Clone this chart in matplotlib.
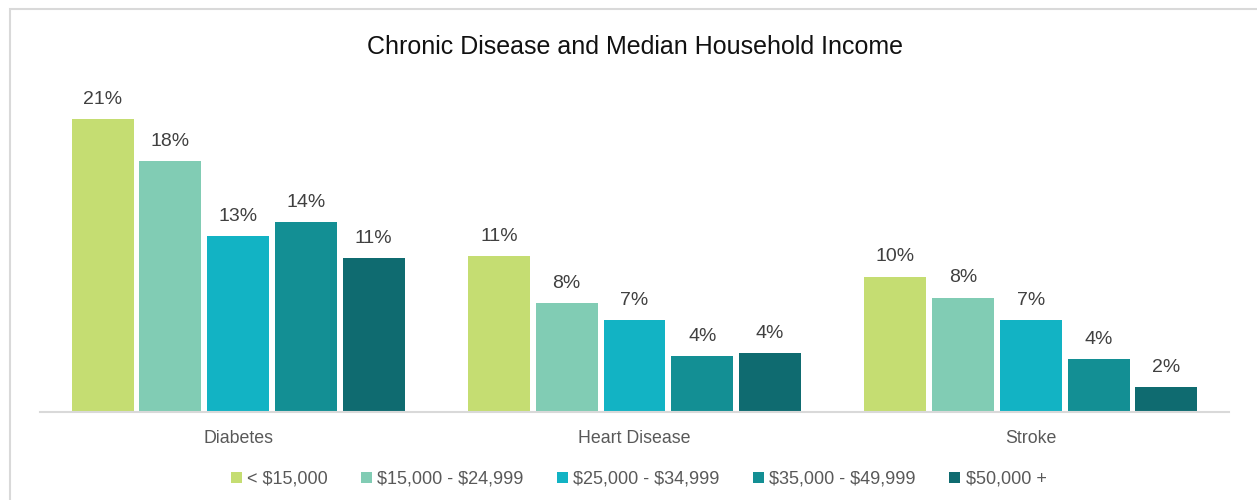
import numpy as np
import matplotlib.pyplot as plt
from matplotlib.patches import Rectangle

plt.rcParams['font.family'] = ['Liberation Sans', 'DejaVu Sans']
plt.rcParams['text.parse_math'] = False

# Chronic disease prevalence by median household income
diseases = ['Diabetes', 'Heart Disease', 'Stroke']
income_groups = ['< $15,000', '$15,000 - $24,999', '$25,000 - $34,999',
                 '$35,000 - $49,999', '$50,000 +']
diabetes = [21.0, 18.0, 12.6, 13.6, 11.0]
heart = [11.2, 7.8, 6.6, 4.0, 4.2]
stroke = [9.7, 8.2, 6.6, 3.8, 1.8]
colors = ['#C5DD72', '#81CCB4', '#12B3C4', '#138F94', '#0F6B70']

values = np.array([diabetes, heart, stroke])

fig = plt.figure(figsize=(12.57, 5.0), dpi=100)
ax = fig.add_axes([40 / 1257, 88 / 500, 1189 / 1257, 349 / 500])

x = np.arange(len(diseases))
slot = 0.171
width = 0.156
for i, (name, col) in enumerate(zip(income_groups, colors)):
    pos = x + (i - 2) * slot
    bars = ax.bar(pos, values[:, i], width, color=col, label=name)
    for b, v in zip(bars, values[:, i]):
        ax.annotate(f'{v:.0f}%', (b.get_x() + b.get_width() / 2, v),
                    xytext=(0, 8), textcoords='offset points',
                    ha='center', va='bottom', fontsize=14, color='#404040')

ax.set_xlim(-0.5, 2.5)
ax.set_ylim(0, 25)
ax.set_xticks(x)
ax.set_xticklabels(diseases, fontsize=12.8, color='#595959')
ax.tick_params(axis='x', length=0, pad=13)
ax.set_yticks([])
for s in ['top', 'right', 'left']:
    ax.spines[s].set_visible(False)
ax.spines['bottom'].set_color('#D9D9D9')
ax.spines['bottom'].set_linewidth(1.5)

fig.text(0.505, 0.907, 'Chronic Disease and Median Household Income',
         ha='center', va='center', fontsize=18, color='#111111')

leg = fig.legend(loc='center', bbox_to_anchor=(0.508, 0.041), ncol=5,
                 frameon=False, fontsize=13, handlelength=0.6, handleheight=0.6,
                 handletextpad=0.3, columnspacing=1.85)
for t in leg.get_texts():
    t.set_color('#595959')

# outer chart frame
fig.patches.append(Rectangle((10 / 1257, -0.1), 1.2, 1.1 - 9 / 500,
                             transform=fig.transFigure, fill=False,
                             edgecolor='#D9D9D9', linewidth=1.5))

fig.savefig('out.png', dpi=100)
